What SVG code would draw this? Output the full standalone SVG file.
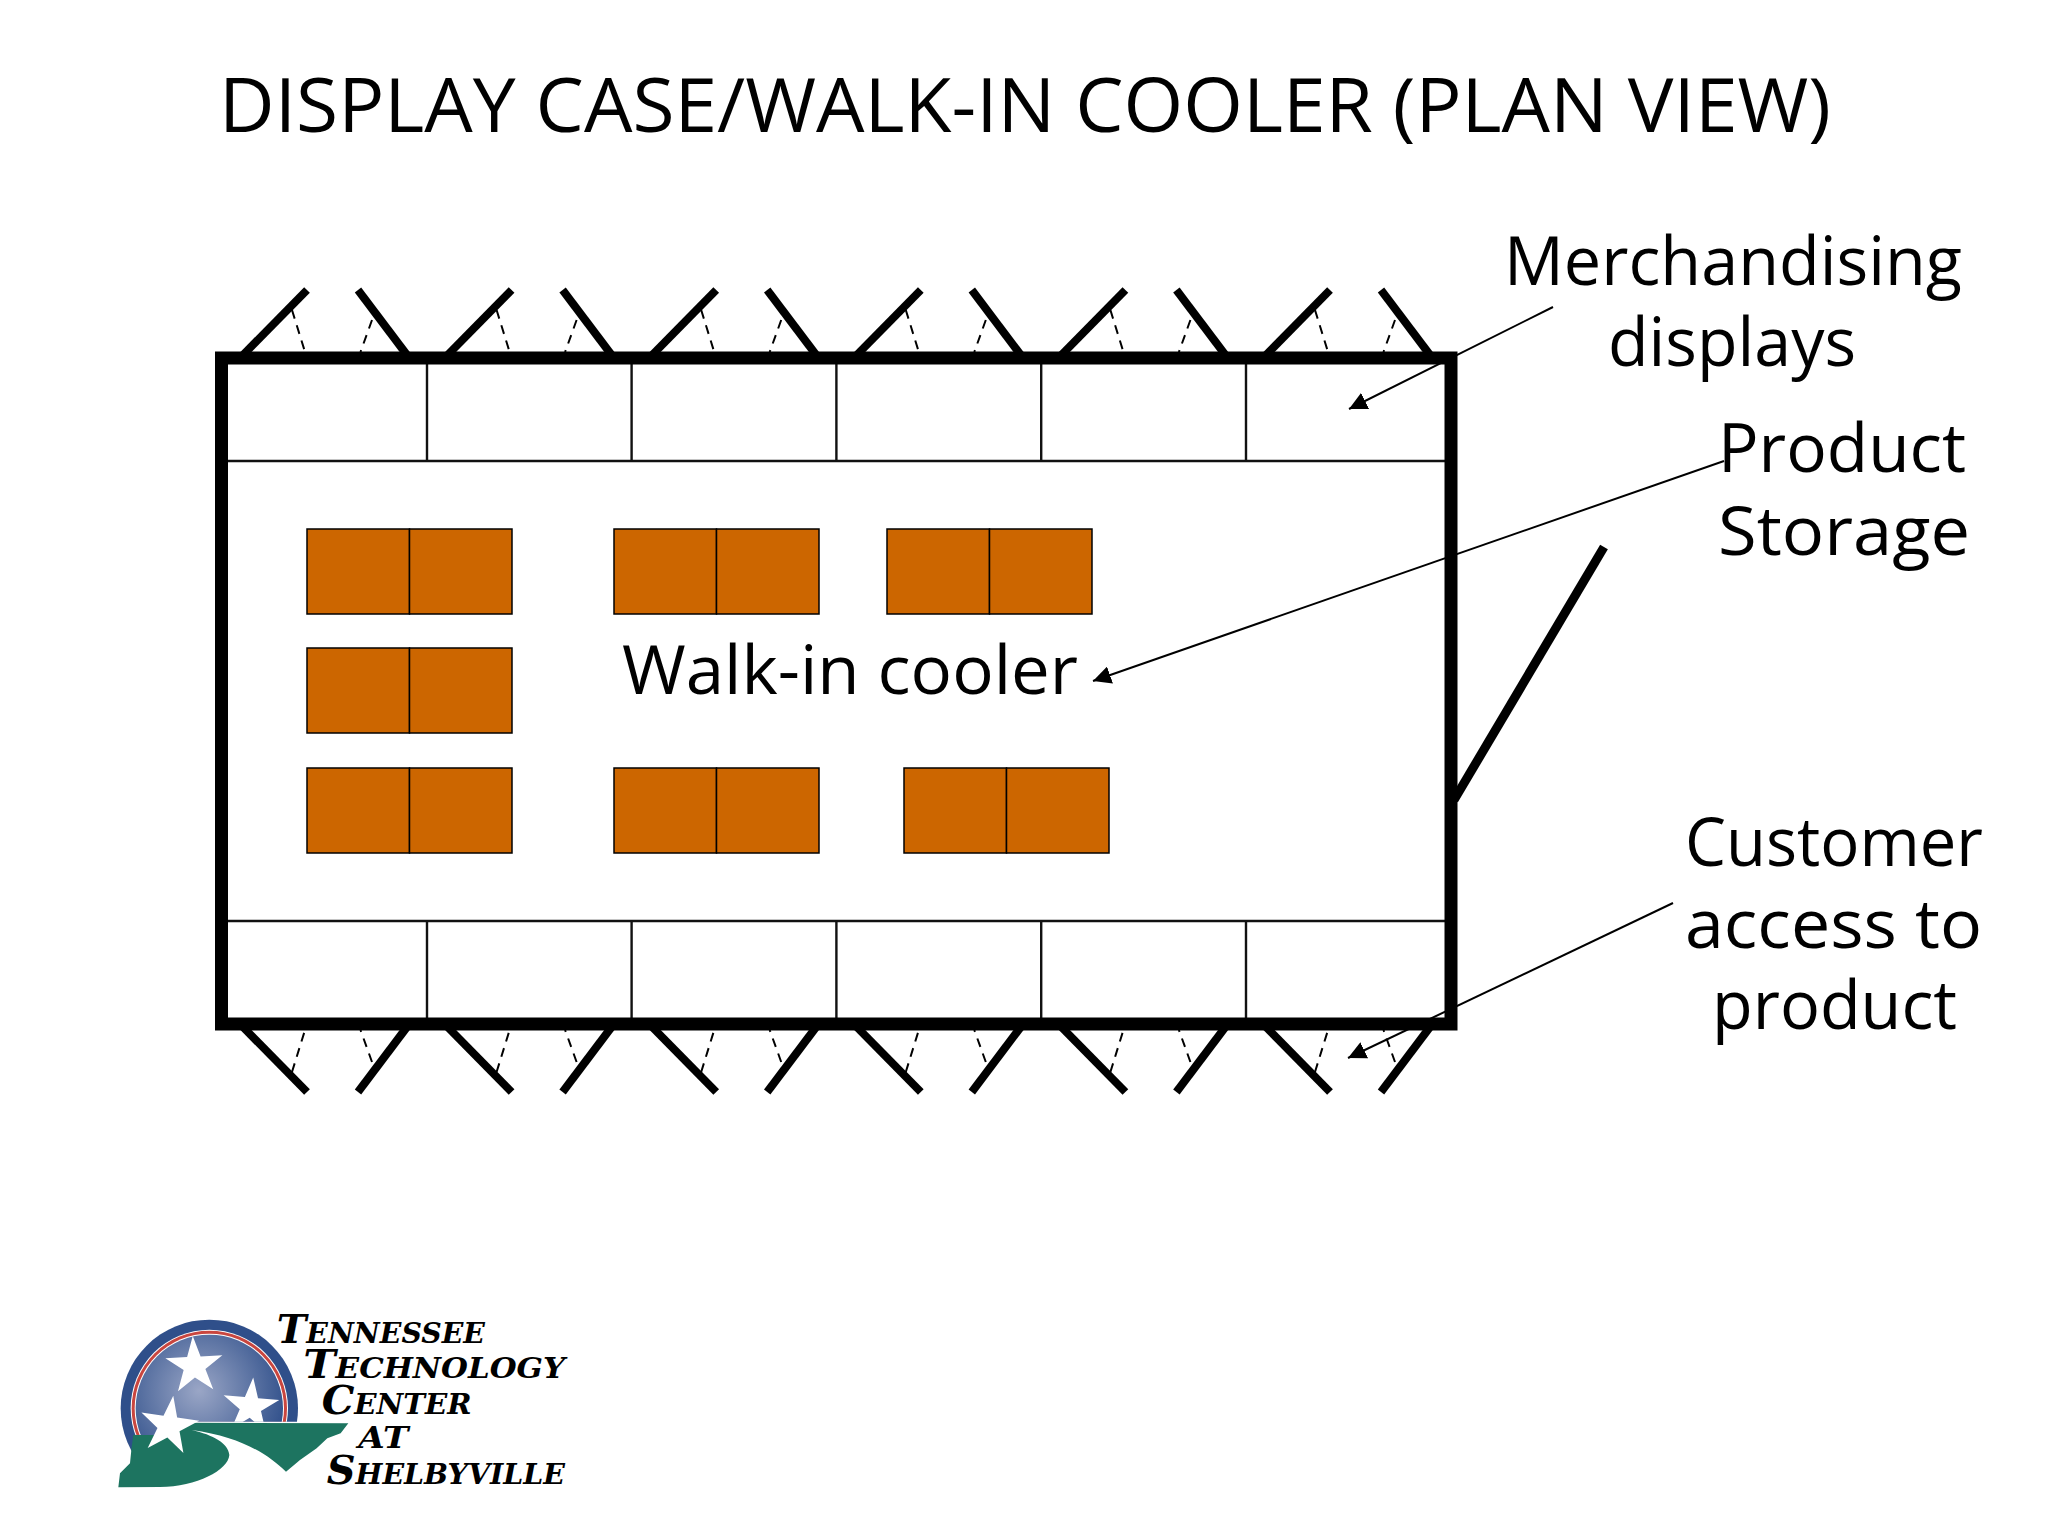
<svg xmlns="http://www.w3.org/2000/svg" width="2048" height="1536" viewBox="0 0 2048 1536">
  <style>
    .t { font-family: "Open Sans", "Liberation Sans", sans-serif; fill: #000; font-size: 68px; }
    .thin { stroke: #111; stroke-width: 2.400; fill: none; }
    .leaf { stroke: #000; stroke-width: 8; fill: none; }
    .dash { stroke: #000; stroke-width: 2; stroke-dasharray: 9 7; fill: none; }
    .pallet { fill: #cc6600; stroke: #000; stroke-width: 1.5; }
    .arrow { stroke: #000; stroke-width: 2; fill: none; marker-end: url(#ah); }
    .logo { font-family: "DejaVu Serif", "Liberation Serif", serif; font-weight: bold; font-style: italic; font-variant: small-caps; font-size: 118px; fill: #000; }
  </style>
  <defs>
    <marker id="ah" viewBox="0 0 10 10" refX="10" refY="5" markerWidth="18" markerHeight="18" markerUnits="userSpaceOnUse" orient="auto">
      <path d="M0,0 L10,5 L0,10 Z" fill="#000"/>
    </marker>
    <g id="door">
      <path class="leaf" d="M243,355 L307,290"/>
      <path class="leaf" d="M358,290 L407,355"/>
      <path class="dash" d="M292,310 L305,352"/>
      <path class="dash" d="M372,320 L360.500,352"/>
    </g>
    <g id="pallet">
      <rect class="pallet" x="0" y="0" width="102.500" height="85"/>
      <rect class="pallet" x="102.500" y="0" width="102.500" height="85"/>
    </g>
    <polygon id="star" points="0,-1 .225,-.309 .951,-.309 .363,.118 .588,.809 0,.382 -.588,.809 -.363,.118 -.951,-.309 -.225,-.309" fill="#fff"/>
    <radialGradient id="disc" cx="0.43" cy="0.38" r="0.62">
      <stop offset="0" stop-color="#9aa6c6"/>
      <stop offset="1" stop-color="#2f4f8a"/>
    </radialGradient>
    <clipPath id="discClip">
      <path d="M0,0 H700 V395 H262 V500 H0 Z"/>
    </clipPath>
  </defs>

  <rect width="2048" height="1536" fill="#fff"/>

  <text id="title" class="t" x="219" y="132" style="font-size:75px" textLength="1612" lengthAdjust="spacingAndGlyphs">DISPLAY CASE/WALK-IN COOLER (PLAN VIEW)</text>

  <g id="merchandising-displays-top">
    <use href="#door"/>
    <use href="#door" x="204.600"/>
    <use href="#door" x="409.200"/>
    <use href="#door" x="613.800"/>
    <use href="#door" x="818.400"/>
    <use href="#door" x="1023"/>
  </g>
  <g id="customer-access-bottom" transform="matrix(1 0 0 -1 0 1382)">
    <use href="#door"/>
    <use href="#door" x="204.600"/>
    <use href="#door" x="409.200"/>
    <use href="#door" x="613.800"/>
    <use href="#door" x="818.400"/>
    <use href="#door" x="1023"/>
  </g>

  <g id="case-dividers">
    <path class="thin" d="M222,461 H1451 M222,921 H1451"/>
    <path class="thin" d="M427,358 V461 M631.600,358 V461 M836.400,358 V461 M1041.200,358 V461 M1246,358 V461"/>
    <path class="thin" d="M427,921 V1024 M631.600,921 V1024 M836.400,921 V1024 M1041.200,921 V1024 M1246,921 V1024"/>
  </g>

  <g id="product-storage">
    <use href="#pallet" x="307" y="529"/>
    <use href="#pallet" x="614" y="529"/>
    <use href="#pallet" x="887" y="529"/>
    <use href="#pallet" x="307" y="648"/>
    <use href="#pallet" x="307" y="768"/>
    <use href="#pallet" x="614" y="768"/>
    <use href="#pallet" x="904" y="768"/>
  </g>

  <g id="cooler-walls">
    <rect x="221.500" y="358" width="1229.500" height="666" fill="none" stroke="#000" stroke-width="13"/>
    <path d="M1454,800 L1604,547" stroke="#000" stroke-width="9" fill="none"/>
  </g>

  <g id="connectors">
    <path class="arrow" d="M1553,307 L1349,409"/>
    <path class="arrow" d="M1724,461 L1093,681"/>
    <path class="arrow" d="M1673,903 L1348,1058"/>
  </g>

  <g id="labels">
    <text class="t" x="622" y="694" textLength="456" lengthAdjust="spacingAndGlyphs">Walk-in cooler</text>
    <text class="t" x="1504" y="285" textLength="458" lengthAdjust="spacingAndGlyphs">Merchandising</text>
    <text class="t" x="1608" y="366" textLength="248" lengthAdjust="spacingAndGlyphs">displays</text>
    <text class="t" x="1718" y="472" textLength="248" lengthAdjust="spacingAndGlyphs">Product</text>
    <text class="t" x="1718" y="555" textLength="252" lengthAdjust="spacingAndGlyphs">Storage</text>
    <text class="t" x="1685" y="866" textLength="298" lengthAdjust="spacingAndGlyphs">Customer</text>
    <text class="t" x="1685" y="948" textLength="297" lengthAdjust="spacingAndGlyphs">access to</text>
    <text class="t" x="1712" y="1029" textLength="245" lengthAdjust="spacingAndGlyphs">product</text>
  </g>

  <g id="logo" transform="translate(100 1290) scale(.33333)">
    <g clip-path="url(#discClip)">
      <circle cx="328" cy="355" r="266" fill="#2f4f8a"/>
      <circle cx="328" cy="355" r="236" fill="#fff"/>
      <circle cx="328" cy="355" r="233" fill="#c9463f"/>
      <circle cx="328" cy="355" r="224" fill="#fff"/>
      <circle cx="328" cy="355" r="221" fill="url(#disc)"/>
      <use href="#star" transform="translate(283 228) rotate(-3) scale(90)"/>
      <use href="#star" transform="translate(452 350) rotate(5) scale(88)"/>
    </g>
    <path d="M262,398 L745,400 L722,430 L682,445 L650,475 L600,510 L558,545 C500,490 420,440 275,420 C340,435 385,460 388,495 C385,540 290,590 180,591 L55,592 L60,550 L90,520 L95,470 L100,435 L190,435 Z" fill="#1d7460"/>
    <use href="#star" transform="translate(207 408) rotate(8) scale(92)"/>
    <text class="logo" x="530" y="158" textLength="625" lengthAdjust="spacingAndGlyphs">Tennessee</text>
    <text class="logo" x="610" y="265" textLength="785" lengthAdjust="spacingAndGlyphs">Technology</text>
    <text class="logo" x="665" y="372" textLength="450" lengthAdjust="spacingAndGlyphs">Center</text>
    <text class="logo" x="775" y="475" style="font-size:90px;font-variant:normal" textLength="150" lengthAdjust="spacingAndGlyphs">AT</text>
    <text class="logo" x="680" y="583" textLength="715" lengthAdjust="spacingAndGlyphs">Shelbyville</text>
  </g>
</svg>
